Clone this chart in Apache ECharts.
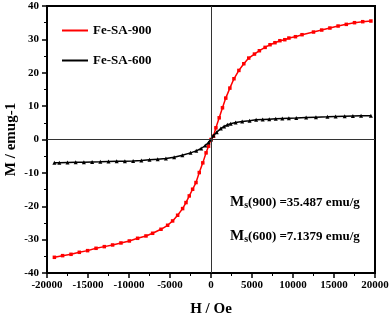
<!DOCTYPE html>
<html><head><meta charset="utf-8">
<script src="https://cdn.jsdelivr.net/npm/echarts@6/dist/echarts.min.js"></script>
<style>html,body{margin:0;padding:0;background:#fff}#c{width:392px;height:316px}</style>
</head><body><div id="c"></div>
<script>
const seriesNames = ['Fe-SA-900', 'Fe-SA-600'];
const xTicks = [-20000, -15000, -10000, -5000, 0, 5000, 10000, 15000, 20000];
const yTicks = [-40, -30, -20, -10, 0, 10, 20, 30, 40];
const h900 = [-19100,-18100,-17070,-16060,-15050,-14020,-13010,-12000,-10980,-9960,-8950,-7930,-7120,-6100,-5290,-4680,-4070,-3460,-3050,-2650,-2240,-1830,-1430,-1000,-600,-300,0,300,600,1000,1400,1800,2300,2800,3400,4000,4600,5300,5900,6600,7200,7800,8400,9000,9500,10300,11100,12500,13500,14500,15500,16500,17500,18500,19500];
const m900 = [-35.3,-34.8,-34.4,-33.8,-33.3,-32.6,-32.1,-31.6,-31.0,-30.4,-29.6,-28.9,-28.1,-26.9,-25.7,-24.4,-22.7,-20.7,-18.9,-16.9,-14.9,-12.9,-9.9,-7.0,-4.0,-2.0,0.0,1.0,3.5,6.5,9.5,12.4,15.4,18.2,20.7,22.7,24.4,25.6,26.6,27.6,28.4,29.0,29.6,29.9,30.4,30.8,31.4,32.2,32.8,33.4,34.0,34.5,35.0,35.3,35.5];
const h600 = [-19100,-18500,-17500,-16500,-15500,-14500,-13500,-12500,-11500,-10500,-9500,-8500,-7500,-6500,-5500,-4500,-3500,-2500,-1800,-1200,-700,-300,0,300,700,1200,1600,2000,2400,3000,3800,4700,5500,6300,7100,7900,8700,9500,10400,11600,12800,14200,15200,16300,17300,18300,19500];
const m600 = [-7.0,-6.95,-6.9,-6.85,-6.8,-6.75,-6.7,-6.6,-6.55,-6.5,-6.45,-6.3,-6.1,-5.9,-5.7,-5.3,-4.7,-4.0,-3.4,-2.7,-1.8,-0.9,0.0,1.2,2.2,3.3,3.9,4.4,4.7,5.1,5.4,5.6,5.9,6.0,6.1,6.2,6.3,6.4,6.45,6.6,6.7,6.8,6.9,7.0,7.05,7.1,7.14];
const annotations = ['{m|M}{s|s}{t|(900) =35.487 emu/g}', '{m|M}{s|s}{t|(600) =7.1379 emu/g}'];

const font = 'Liberation Serif, Times New Roman, serif';
const chart = echarts.init(document.getElementById('c'), null, {renderer: 'canvas'});
const zip = (a, b) => a.map((v, i) => [v, b[i]]);
const rich = {
  m: {fontFamily: font, fontWeight: 'bold', fontSize: 15, color: '#000'},
  s: {fontFamily: font, fontWeight: 'bold', fontSize: 10, color: '#000', verticalAlign: 'bottom', padding: [6, 0, 0, 0]},
  t: {fontFamily: font, fontWeight: 'bold', fontSize: 13, color: '#000'}
};
chart.setOption({
  animation: false,
  grid: {left: 47, right: 17, top: 6, bottom: 43, show: true, borderColor: '#000', borderWidth: 2, outerBoundsMode: 'none', containLabel: false},
  legend: {
    orient: 'vertical', left: 57, top: 19, itemGap: 17, itemWidth: 26, itemHeight: 2, icon: 'rect',
    textStyle: {fontFamily: font, fontWeight: 'bold', fontSize: 13, color: '#000'},
    data: seriesNames
  },
  xAxis: {
    type: 'value', min: -20000, max: 20000, interval: 5000,
    name: 'H / Oe', nameLocation: 'middle', nameGap: 29,
    nameTextStyle: {fontFamily: font, fontWeight: 'bold', fontSize: 15, color: '#000'},
    axisLine: {onZero: false, lineStyle: {color: '#000', width: 2}},
    axisTick: {show: true, inside: false, length: 5, lineStyle: {color: '#000', width: 1.5}},
    minorTick: {show: true, splitNumber: 2, length: 3, lineStyle: {color: '#000', width: 1}},
    axisLabel: {fontFamily: font, fontWeight: 'bold', fontSize: 11, color: '#000', margin: 7,
      formatter: v => xTicks.includes(v) ? String(v) : ''},
    splitLine: {show: false}
  },
  yAxis: {
    type: 'value', min: -40, max: 40, interval: 10,
    name: 'M / emug-1', nameLocation: 'middle', nameGap: 28, nameMoveOverlap: false,
    nameTextStyle: {fontFamily: font, fontWeight: 'bold', fontSize: 15, color: '#000'},
    axisLine: {onZero: false, lineStyle: {color: '#000', width: 2}},
    axisTick: {show: true, inside: false, length: 5, lineStyle: {color: '#000', width: 1.5}},
    minorTick: {show: true, splitNumber: 2, length: 3, lineStyle: {color: '#000', width: 1}},
    axisLabel: {fontFamily: font, fontWeight: 'bold', fontSize: 11, color: '#000', margin: 8,
      formatter: v => yTicks.includes(v) ? String(v) : ''},
    splitLine: {show: false}
  },
  series: [
    {
      name: seriesNames[0], type: 'line', data: zip(h900, m900),
      symbol: 'rect', symbolSize: 3.5, showSymbol: true,
      lineStyle: {color: '#ff0000', width: 1.5}, itemStyle: {color: '#ff0000'},
      z: 3,
      markLine: {
        silent: true, symbol: 'none', label: {show: false},
        lineStyle: {color: '#333', width: 1, type: 'solid'},
        data: [{xAxis: 0}, {yAxis: 0}]
      }
    },
    {
      name: seriesNames[1], type: 'line', data: zip(h600, m600),
      symbol: 'triangle', symbolSize: 4, showSymbol: true,
      lineStyle: {color: '#000', width: 1.5}, itemStyle: {color: '#000'},
      z: 4
    }
  ],
  graphic: [
    {type: 'text', left: 230, top: 195, style: {text: annotations[0], rich: rich}},
    {type: 'text', left: 230, top: 229, style: {text: annotations[1], rich: rich}}
  ]
});
</script></body></html>
